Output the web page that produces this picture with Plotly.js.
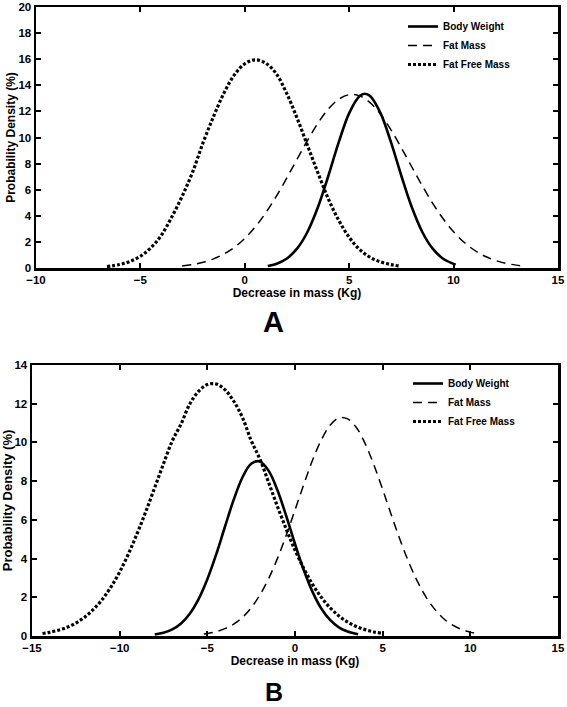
<!DOCTYPE html>
<html>
<head>
<meta charset="utf-8">
<script src="https://cdn.plot.ly/plotly-3.0.1.min.js"></script>
<style>html,body{margin:0;padding:0;background:#fff;}#chart{width:567px;height:707px;}</style>
</head>
<body>
<div id="chart"></div>
<script>
// ---------- Panel A ----------
const seriesNames = ["Body Weight", "Fat Mass", "Fat Free Mass"];
const panelLabels = ["A", "B"];
const xTitle = "Decrease in mass (Kg)";
const yTitle = "Probability Density (%)";

const aBodyX = [1.1, 1.5, 2, 2.5, 3, 3.5, 4, 4.5, 5, 5.5, 5.75, 6, 6.5, 7, 7.5, 8, 8.5, 9, 9.5, 10.1];
const aBodyY = [0.15, 0.31, 0.71, 1.48, 2.76, 4.65, 7.05, 9.64, 11.87, 13.18, 13.35, 13.18, 11.87, 9.64, 7.05, 4.65, 2.76, 1.48, 0.71, 0.26];

const aFatX = [-3, -2.5, -2, -1.5, -1, -0.5, 0, 0.5, 1, 1.5, 2, 2.5, 3, 3.5, 4, 4.5, 5, 5.5, 6, 6.5, 7, 7.5, 8, 8.5, 9, 9.5, 10, 10.5, 11, 11.5, 12, 12.5, 13, 13.4];
const aFatY = [0.16, 0.27, 0.44, 0.70, 1.07, 1.58, 2.27, 3.15, 4.22, 5.47, 6.86, 8.33, 9.77, 11.09, 12.18, 12.93, 13.28, 13.19, 12.67, 11.78, 10.59, 9.2, 7.74, 6.3, 4.95, 3.77, 2.77, 1.97, 1.36, 0.90, 0.58, 0.36, 0.22, 0.14];

const aFfmX = [-6.6, -6, -5.5, -5, -4.5, -4, -3.5, -3, -2.5, -2, -1.5, -1, -0.5, 0, 0.5, 1, 1.5, 2, 2.5, 3, 3.5, 4, 4.5, 5, 5.5, 6, 6.5, 7, 7.4];
const aFfmY = [0.1, 0.27, 0.5, 0.9, 1.55, 2.5, 3.9, 5.5, 7.35, 9.6, 11.6, 13.4, 14.8, 15.65, 15.95, 15.7, 14.9, 13.4, 11.5, 9.4, 7.3, 5.3, 3.65, 2.35, 1.42, 0.82, 0.47, 0.26, 0.15];

const aXTicks = [-10, -5, 0, 5, 10, 15];
const aYTicks = [0, 2, 4, 6, 8, 10, 12, 14, 16, 18, 20];

// ---------- Panel B ----------
const bBodyX = [-8, -7.5, -7, -6.5, -6, -5.5, -5, -4.5, -4, -3.5, -3, -2.5, -2, -1.5, -1, -0.5, 0, 0.5, 1, 1.5, 2, 2.5, 3, 3.6];
const bBodyY = [0.08, 0.17, 0.34, 0.65, 1.15, 1.90, 2.93, 4.2, 5.63, 7.03, 8.19, 8.9, 9.02, 8.53, 7.53, 6.2, 4.76, 3.41, 2.28, 1.42, 0.83, 0.45, 0.23, 0.09];

const bFatX = [-5.2, -5, -4.5, -4, -3.5, -3, -2.5, -2, -1.5, -1, -0.5, 0, 0.5, 1, 1.5, 2, 2.5, 3, 3.5, 4, 4.5, 5, 5.5, 6, 6.5, 7, 7.5, 8, 8.5, 9, 9.5, 10, 10.5];
const bFatY = [0.10, 0.13, 0.22, 0.38, 0.61, 0.96, 1.46, 2.12, 2.97, 4.01, 5.20, 6.51, 7.83, 9.08, 10.13, 10.89, 11.27, 11.22, 10.77, 9.94, 8.84, 7.57, 6.24, 4.95, 3.78, 2.79, 1.97, 1.35, 0.88, 0.56, 0.34, 0.20, 0.11];

const bFfmX = [-14.4, -14, -13.5, -13, -12.5, -12, -11.5, -11, -10.5, -10, -9.5, -9, -8.5, -8, -7.5, -7, -6.5, -6, -5.5, -5, -4.5, -4, -3.5, -3, -2.5, -2, -1.5, -1, -0.5, 0, 0.5, 1, 1.5, 2, 2.5, 3, 3.5, 4, 4.5, 4.9];
const bFfmY = [0.13, 0.19, 0.30, 0.45, 0.67, 0.97, 1.37, 1.88, 2.53, 3.31, 4.24, 5.30, 6.45, 7.67, 8.90, 10.08, 10.95, 11.99, 12.64, 12.99, 13.02, 12.73, 12.14, 11.29, 10.1, 9.14, 7.92, 6.69, 5.52, 4.44, 3.49, 2.67, 2.0, 1.46, 1.04, 0.72, 0.49, 0.33, 0.21, 0.15];

const bXTicks = [-15, -10, -5, 0, 5, 10, 15];
const bYTicks = [0, 2, 4, 6, 8, 10, 12, 14];

// ---------- styles ----------
const FONT = "Liberation Sans, Arial, sans-serif";
const solidLine = {color: "#000", width: 2.6, dash: "solid", shape: "spline"};
const dashLine = {color: "#000", width: 1.5, dash: "9px,6px", shape: "spline"};
const dotLine = {color: "#000", width: 3.2, dash: "3px,2px", shape: "spline"};

function tr(x, y, name, line, xa, ya, leg) {
  return {x: x, y: y, name: name, type: "scatter", mode: "lines", line: line,
          xaxis: xa, yaxis: ya, legend: leg, hoverinfo: "skip"};
}

const data = [
  tr(aBodyX, aBodyY, seriesNames[0], solidLine, "x", "y", "legend"),
  tr(aFatX, aFatY, seriesNames[1], dashLine, "x", "y", "legend"),
  tr(aFfmX, aFfmY, seriesNames[2], dotLine, "x", "y", "legend"),
  tr(bBodyX, bBodyY, seriesNames[0], solidLine, "x2", "y2", "legend2"),
  tr(bFatX, bFatY, seriesNames[1], dashLine, "x2", "y2", "legend2"),
  tr(bFfmX, bFfmY, seriesNames[2], dotLine, "x2", "y2", "legend2")
];

const W = 567, H = 707;
function axisBase(extra) {
  return Object.assign({
    showline: true, linecolor: "#000", linewidth: 2.5, mirror: "ticks",
    ticks: "inside", ticklen: 5, tickwidth: 2, tickcolor: "#000",
    showgrid: false, zeroline: false, fixedrange: true,
    tickfont: {family: FONT, size: 11.5, color: "#000", weight: 700}
  }, extra);
}

const layout = {
  width: W, height: H,
  margin: {l: 0, r: 0, t: 0, b: 0},
  paper_bgcolor: "#fff", plot_bgcolor: "#fff",
  showlegend: true,
  xaxis: axisBase({domain: [36 / W, 558 / W], range: [-10, 15], tickvals: aXTicks, anchor: "y",
    title: {text: xTitle, standoff: 1, font: {family: FONT, size: 12, color: "#000", weight: 700}}}),
  yaxis: axisBase({domain: [(H - 268) / H, (H - 7) / H], range: [0, 20], tickvals: aYTicks, anchor: "x",
    title: {text: yTitle, standoff: 0, font: {family: FONT, size: 12, color: "#000", weight: 700}}}),
  xaxis2: axisBase({domain: [32 / W, 558 / W], range: [-15, 15], tickvals: bXTicks, anchor: "y2",
    title: {text: xTitle, standoff: 1, font: {family: FONT, size: 12, color: "#000", weight: 700}}}),
  yaxis2: axisBase({domain: [(H - 636) / H, (H - 365) / H], range: [0, 14], tickvals: bYTicks, anchor: "x2",
    title: {text: yTitle, standoff: 0, font: {family: FONT, size: 13, color: "#000", weight: 700}}}),
  legend: {x: 403 / W, y: (H - 12) / H, xanchor: "left", yanchor: "top", bgcolor: "rgba(0,0,0,0)",
    borderwidth: 0, font: {family: FONT, size: 10, color: "#000", weight: 700}, tracegroupgap: 0},
  legend2: {x: 408 / W, y: (H - 369) / H, xanchor: "left", yanchor: "top", bgcolor: "rgba(0,0,0,0)",
    borderwidth: 0, font: {family: FONT, size: 10, color: "#000", weight: 700}, tracegroupgap: 0},
  annotations: [
    {text: panelLabels[0], xref: "paper", yref: "paper", x: 273 / W, y: (H - 322) / H,
     xanchor: "center", yanchor: "middle", showarrow: false,
     font: {family: FONT, size: 29, color: "#000", weight: 700}},
    {text: panelLabels[1], xref: "paper", yref: "paper", x: 273.5 / W, y: 0,
     xanchor: "center", yanchor: "bottom", showarrow: false, borderpad: 0,
     font: {family: FONT, size: 25, color: "#000", weight: 700}}
  ]
};

Plotly.newPlot("chart", data, layout, {displayModeBar: false, staticPlot: true});
</script>
</body>
</html>
